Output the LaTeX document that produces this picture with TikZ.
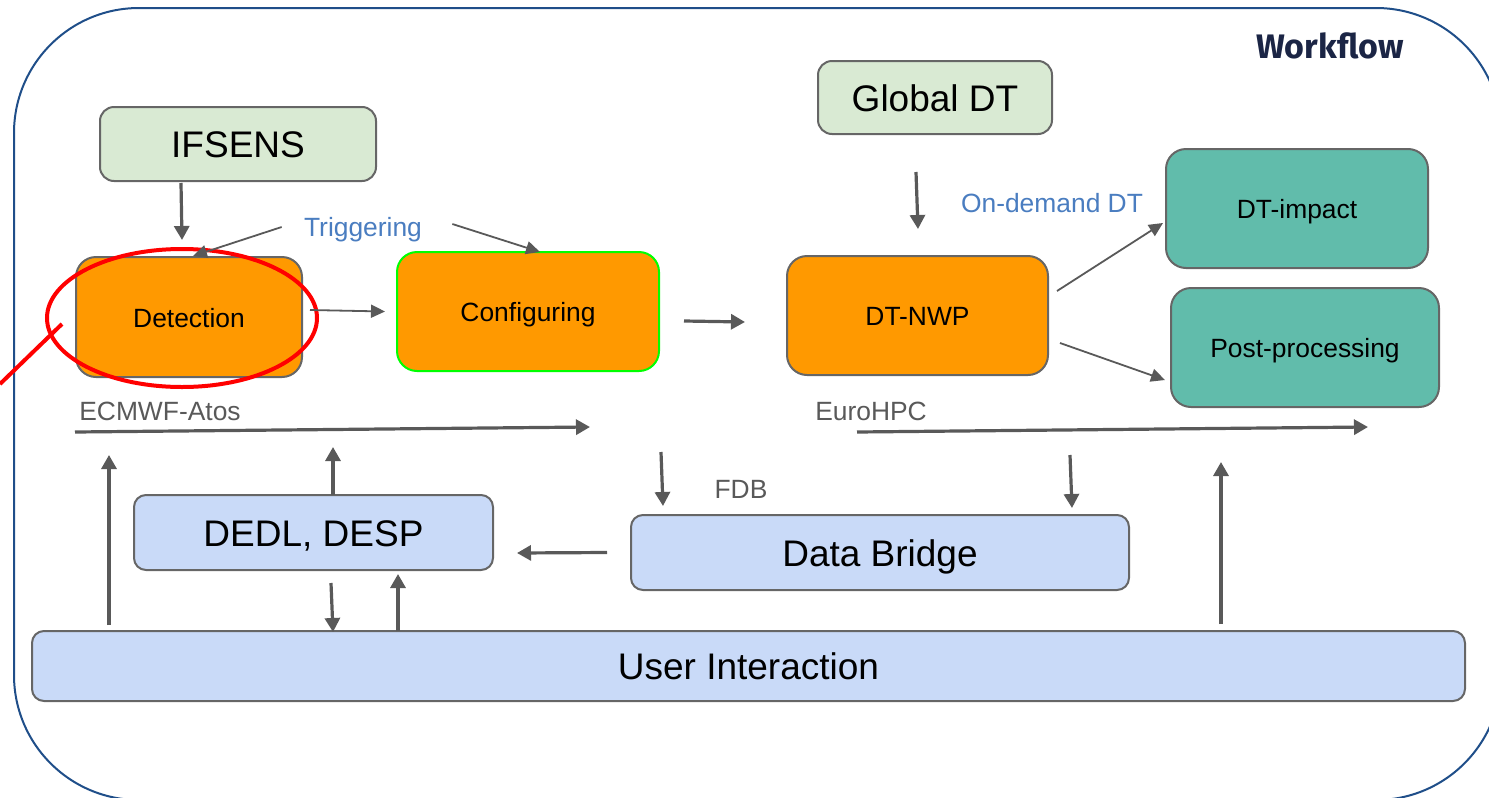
\documentclass[tikz,border=0pt]{standalone}
\usepackage{fontspec}
\setmainfont{Liberation Sans}
\newfontfamily\wffont{Fira Sans}
\usetikzlibrary{arrows.meta}
\definecolor{framecol}{HTML}{1F4E89}
\definecolor{orangefill}{HTML}{FF9900}
\definecolor{greenfill}{HTML}{D9EAD3}
\definecolor{tealfill}{HTML}{61BCAB}
\definecolor{bluefill}{HTML}{C9DAF8}
\definecolor{boxstroke}{HTML}{666666}
\definecolor{arrowgray}{HTML}{595959}
\definecolor{bluetext}{HTML}{4A7DC0}
\definecolor{cfgstroke}{HTML}{00FF00}
\definecolor{wfcol}{HTML}{1B2545}
\tikzset{
  box/.style={draw=boxstroke, line width=1pt, inner sep=0pt, outer sep=0pt, align=center, text=black, text depth=0pt},
  bigtext/.style={font=\fontsize{18.5pt}{22pt}\selectfont, text height=13.7pt},
  smalltext/.style={font=\fontsize{13.2pt}{16pt}\selectfont, text height=10.2pt},
  greenbox/.style={box, bigtext, fill=greenfill, rounded corners=7pt},
  orangebox/.style={box, smalltext, fill=orangefill, rounded corners=10pt},
  tealbox/.style={box, smalltext, fill=tealfill, rounded corners=10pt},
  bluebox/.style={box, bigtext, fill=bluefill, rounded corners=6pt},
  thickarrow/.style={draw=arrowgray, line width=1.6pt, -{Triangle[length=7pt,width=7.5pt]}},
  thinarrow/.style={draw=arrowgray, line width=0.9pt, -{Triangle[length=7pt,width=6.5pt]}},
  labeltext/.style={font=\fontsize{13.2pt}{16pt}\selectfont, inner sep=0pt, text height=9.45pt, text depth=0pt},
  graylabel/.style={labeltext, text=arrowgray},
  bluelabel/.style={labeltext, text=bluetext},
  annot/.style={draw=red, line width=2pt}
}
\begin{document}
\begin{tikzpicture}[x=0.5pt,y=-0.5pt]
\useasboundingbox (0,0) rectangle (1489,798);
\begin{scope}
  \clip (0,0) rectangle (1489,798);
  \draw[framecol, line width=1pt, rounded corners=62.5pt] (14,8) rectangle (1501,800);
\end{scope}
\node[text=wfcol, font=\wffont\bfseries\fontsize{17pt}{20pt}\selectfont, inner sep=0pt] (wf) at (1330,46) {Workflow};

% boxes
\node[greenbox, minimum width=138pt, minimum height=37pt] (ifsens) at (238,144) {IFSENS};
\node[greenbox, minimum width=117pt, minimum height=36.5pt] (global) at (935,97.5) {Global DT};
\node[orangebox, minimum width=113pt, minimum height=60pt] (detection) at (189,317) {Detection};
\node[orangebox, draw=cfgstroke, minimum width=131pt, minimum height=59.5pt] (config) at (528,311.5) {Configuring};
\node[orangebox, minimum width=130.5pt, minimum height=59.5pt] (dtnwp) at (917.5,315.5) {DT-NWP};
\node[tealbox, minimum width=131pt, minimum height=59.5pt] (impact) at (1297,208.5) {DT-impact};
\node[tealbox, minimum width=134pt, minimum height=59.5pt] (post) at (1305,347.5) {Post-processing};
\node[bluebox, minimum width=179.5pt, minimum height=37.5pt] (dedl) at (313.5,532.5) {DEDL, DESP};
\node[bluebox, minimum width=249pt, minimum height=37.5pt] (bridge) at (880,552.5) {Data Bridge};
\node[bluebox, minimum width=716.5pt, minimum height=35pt] (user) at (748.5,666) {User Interaction};

% labels
\node[bluelabel] (trig) at (363,227) {Triggering};
\node[bluelabel] (ondemand) at (1052,203) {On-demand DT};
\node[graylabel] (ecmwf) at (160,411) {ECMWF-Atos};
\node[graylabel] (eurohpc) at (871,411) {EuroHPC};
\node[graylabel] (fdb) at (741,489) {FDB};

% platform lines
\coordinate (ecA) at (75,432);
\coordinate (ecB) at (590,427);
\coordinate (euA) at (857,432);
\coordinate (euB) at (1368,427);
\draw[thickarrow] (ecA) -- (ecB);
\draw[thickarrow] (euA) -- (euB);

% red annotation
\draw[annot] (182,318) ellipse [x radius=135, y radius=69];
\coordinate (redA) at (0,384);
\coordinate (redB) at (62,324);
\draw[annot] (redA) -- (redB);

% connectors
\draw[thickarrow] ([xshift=-28.5pt,yshift=-1pt]ifsens.south) -- ([xshift=-3.5pt,yshift=8.5pt]detection.north);
\draw[thinarrow] ([xshift=-11pt]trig.west) -- ([xshift=2pt,yshift=0.5pt]detection.north);
\draw[thinarrow] ([xshift=15pt,yshift=1.5pt]trig.east) -- ([xshift=6pt]config.north);
\draw[thinarrow] ([xshift=4pt,yshift=3.5pt]detection.east) -- ([xshift=-6pt]config.west);
\draw[thickarrow] ([xshift=12.5pt,yshift=-4.75pt]config.east) -- ([xshift=-21pt,yshift=-3.25pt]dtnwp.west);
\draw[thickarrow] ([xshift=-9.5pt,yshift=-19pt]global.south) -- ([xshift=0.25pt,yshift=13.5pt]dtnwp.north);
\draw[thinarrow] ([xshift=4.5pt,yshift=12.25pt]dtnwp.east) -- ([xshift=-1.5pt,yshift=-7.25pt]impact.west);
\draw[thinarrow] ([xshift=6pt,yshift=-13.75pt]dtnwp.east) -- ([xshift=-3pt,yshift=-16.25pt]post.west);

\coordinate (fdbA) at (661,452);
\coordinate (euDown) at (1070,455);
\draw[thickarrow] (fdbA) -- ([xshift=-108.5pt,yshift=4.5pt]bridge.north);
\draw[thickarrow] (euDown) -- ([xshift=96pt,yshift=3.5pt]bridge.north);
\draw[thickarrow] ([xshift=-12pt]bridge.west) -- ([xshift=12pt,yshift=-10.25pt]dedl.east);

\coordinate (ecUp1) at (333,447);
\coordinate (ecUp2) at (109,455);
\coordinate (euUp) at (1221,462);
\draw[thickarrow] ([xshift=9.75pt]dedl.north) -- (ecUp1);
\draw[thickarrow] ([xshift=-319.75pt,yshift=3pt]user.north) -- (ecUp2);
\draw[thickarrow] ([xshift=8.75pt,yshift=-6.5pt]dedl.south) -- ([xshift=-207.75pt,yshift=-0.5pt]user.north);
\draw[thickarrow] ([xshift=-175.25pt]user.north) -- ([xshift=42.25pt,yshift=-2pt]dedl.south);
\draw[thickarrow] ([xshift=236.25pt,yshift=3.5pt]user.north) -- (euUp);
\end{tikzpicture}
\end{document}
